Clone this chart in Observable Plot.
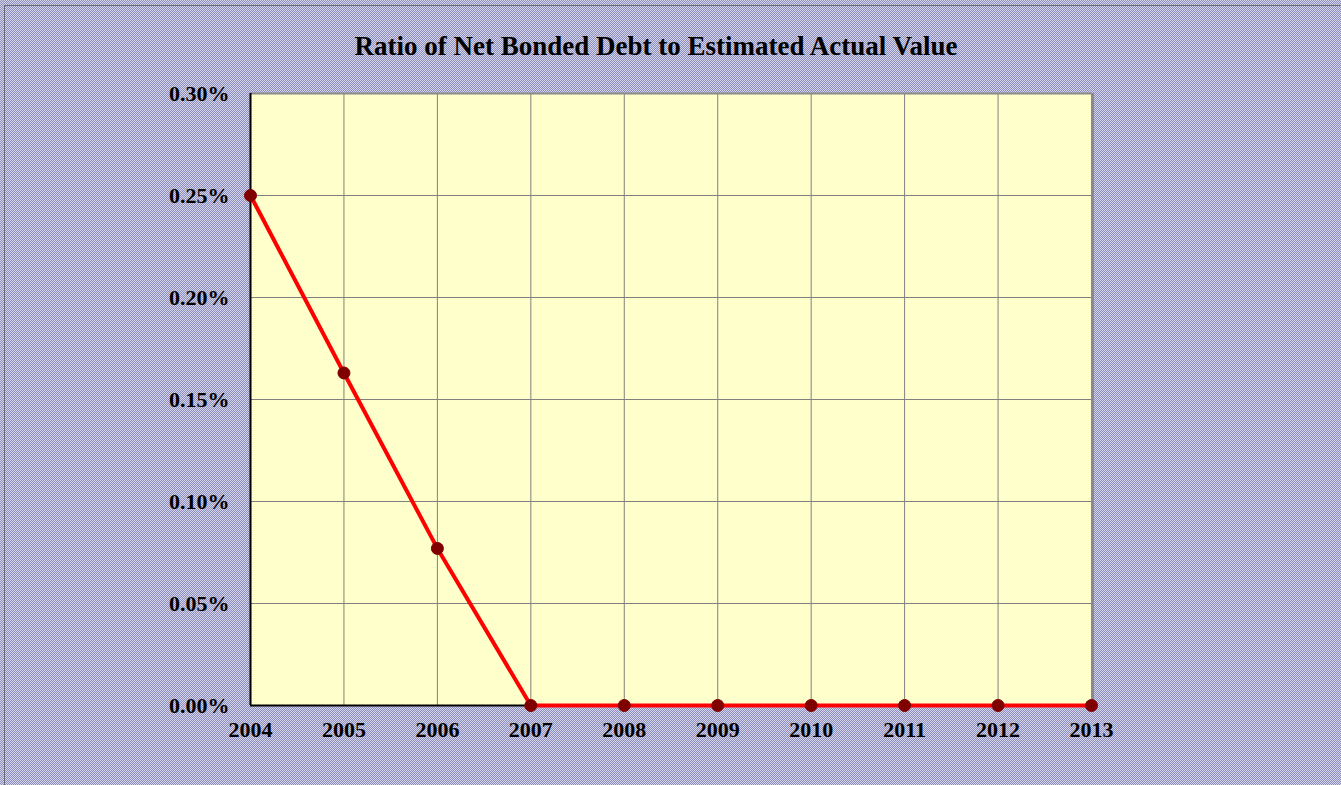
<!DOCTYPE html>
<html>
<head>
<meta charset="utf-8">
<script src="https://cdn.jsdelivr.net/npm/d3@7"></script>
<script src="https://cdn.jsdelivr.net/npm/@observablehq/plot@0.6"></script>
<style>
  html, body { margin: 0; padding: 0; }
  #chart {
    position: relative; width: 1341px; height: 785px; overflow: hidden;
    background: repeating-conic-gradient(#8e8ebe 0 25%, #d4d4e8 0 50%) 0 0 / 2px 2px;
    font-family: "Liberation Serif", "Times New Roman", serif;
  }
  #edge { position: absolute; left: 4px; top: 5px; right: -2px; bottom: -2px;
    border-left: 1px solid #6a6a7a; border-top: 1px solid #6a6a7a; pointer-events: none; }
  #title { position: absolute; left: 0; top: 0; width: 1312px; height: 80px; line-height: 92px;
    text-align: center; font-weight: bold; font-size: 27px; color: #000; }
  #plot { position: absolute; left: 0; top: 80px; }
</style>
</head>
<body>
<div id="chart">
  <div id="edge"></div>
  <div id="title">Ratio of Net Bonded Debt to Estimated Actual Value</div>
  <div id="plot"></div>
</div>
<script>
const years = [2004, 2005, 2006, 2007, 2008, 2009, 2010, 2011, 2012, 2013];
const ratios = [0.25, 0.163, 0.077, 0, 0, 0, 0, 0, 0, 0]; // percent
const yTicks = [0, 0.05, 0.10, 0.15, 0.20, 0.25, 0.30];
const yTickLabels = ["0.00%", "0.05%", "0.10%", "0.15%", "0.20%", "0.25%", "0.30%"];

const data = years.map((y, i) => ({year: y, value: ratios[i]}));
const fontStyle = {fontFamily: "'Liberation Serif', 'Times New Roman', serif", fontWeight: "bold", fontSize: "22px"};

const chart = Plot.plot({
  width: 1341,
  height: 705,
  marginLeft: 250,
  marginRight: 250,
  marginTop: 13,
  marginBottom: 80,
  style: {background: "transparent", color: "#000", ...fontStyle, overflow: "visible"},
  x: {type: "linear", domain: [2004, 2013], ticks: years},
  y: {domain: [0, 0.30], ticks: yTicks},
  marks: [
    Plot.frame({fill: "#ffffcc", stroke: null}),
    Plot.gridX(years, {stroke: "#808080", strokeOpacity: 1, strokeWidth: 1}),
    Plot.gridY(yTicks, {stroke: "#808080", strokeOpacity: 1, strokeWidth: 1}),
    Plot.ruleX([2013], {stroke: "#8a8a8a", strokeWidth: 3, dx: 1}),
    Plot.ruleY([0.30], {stroke: "#8a8a8a", strokeWidth: 2}),
    Plot.ruleX([2004], {stroke: "#000", strokeWidth: 2}),
    Plot.ruleY([0], {stroke: "#000", strokeWidth: 2}),
    Plot.axisY(yTicks, {tickSize: 0, tickPadding: 21, tickFormat: (d, i) => yTickLabels[i], label: null, ...fontStyle}),
    Plot.axisX(years, {tickSize: 0, tickPadding: 16, tickFormat: d => String(d), label: null, ...fontStyle}),
    Plot.line(data, {x: "year", y: "value", stroke: "#ff0000", strokeWidth: 4}),
    Plot.dot(data, {x: "year", y: "value", r: 6, fill: "#800000", stroke: "#800000", strokeWidth: 1})
  ]
});
document.getElementById("plot").appendChild(chart);
</script>
</body>
</html>
